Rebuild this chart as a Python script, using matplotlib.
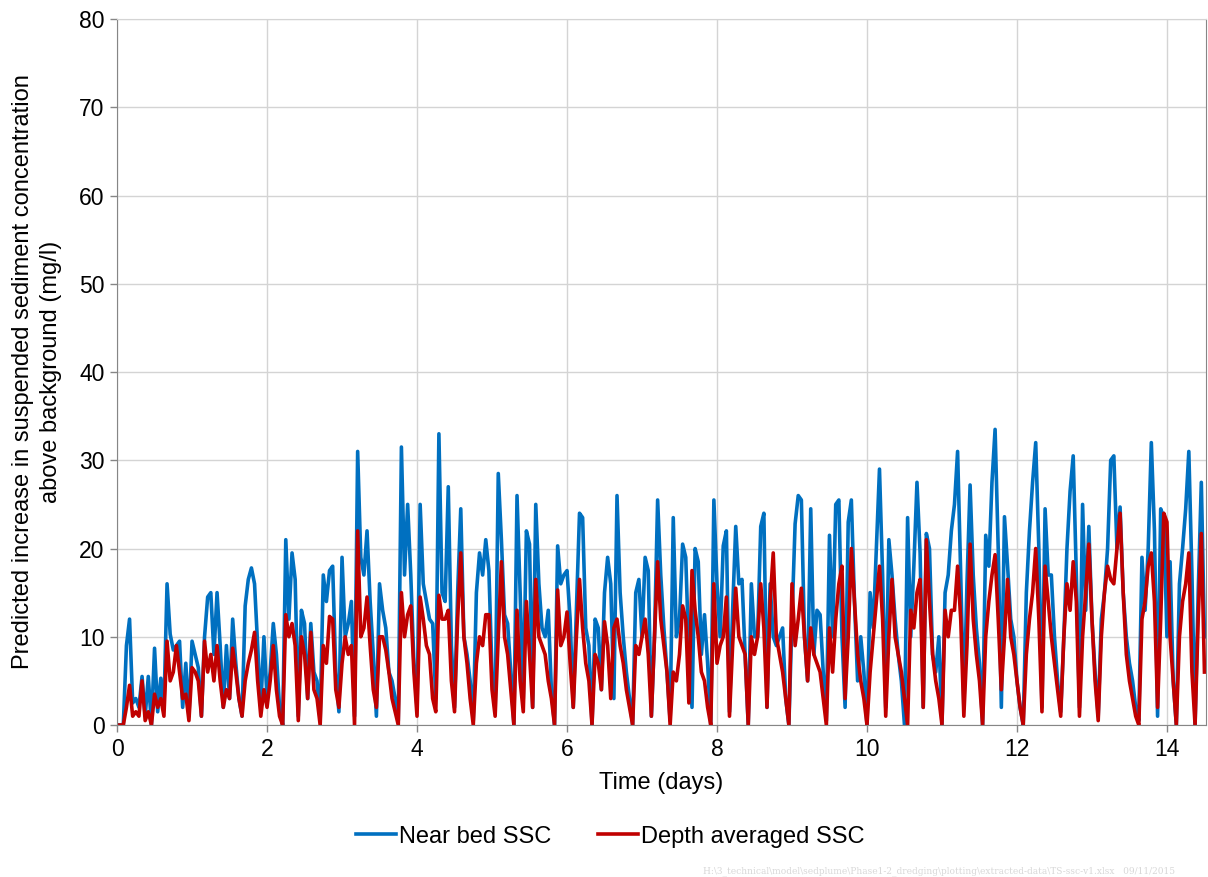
import numpy as np
import matplotlib
matplotlib.use("Agg")
import matplotlib.pyplot as plt

plt.rcParams['font.family'] = ['Liberation Sans', 'DejaVu Sans']

# hourly values (mg/l), starting at t = 0
near_bed = [
    0, 0, 0, 9, 12, 2.5, 3, 2, 5.5, 1, 5.5, 0,                    # 0
    8.7, 1.5, 5.3, 2, 16, 10.3, 8.5, 9, 9.5, 2, 7, 1,              # 12
    9.5, 8, 6.5, 1, 10, 14.5, 15, 8, 15, 9, 2, 9,                  # 24
    3, 12, 7, 3, 1, 13.5, 16.5, 17.8, 16, 9, 2, 10,                # 36
    3, 6, 11.5, 8, 2, 0, 21, 12, 19.5, 16.5, 1, 13,                # 48
    11.5, 3, 11.5, 6, 5, 0.5, 17, 14, 17.5, 18, 6, 1.5,            # 60
    19, 10, 11.5, 14, 1, 31, 19, 17, 22, 14, 8, 1,                 # 72
    16, 13, 11, 6, 5, 3, 0.5, 31.5, 17, 25, 17, 7,                 # 84
    2, 25, 16, 14, 12, 11.5, 3, 33, 15, 14, 27, 9,                 # 96
    2, 15, 24.5, 10, 8, 5, 0.5, 15, 19.5, 17, 21, 17.5,            # 108
    6, 1.5, 28.5, 21, 12.5, 11.5, 6, 0, 26, 15, 3, 22,             # 120
    20.5, 2, 25, 16, 11, 10, 13, 4, 0, 20.3, 16, 17,               # 132
    17.5, 12, 2, 13, 24, 23.5, 11, 9, 0, 12, 11, 4,                # 144
    15, 19, 16, 3, 26, 15, 10, 6, 3, 0, 15, 16.5,                  # 156
    10, 19, 17.5, 1, 10, 25.5, 17, 11, 6, 0.5, 23.5, 10,           # 168
    12, 20.5, 19, 8, 2, 20, 18.5, 8, 12.5, 7, 0, 25.5,             # 180
    16, 10, 20.3, 22, 1.5, 13, 22.5, 16, 16.5, 8, 0, 16,           # 192
    10, 10, 22.5, 24, 2, 16, 10, 9, 10, 11, 3, 0,                  # 204
    12, 22.8, 26, 25.5, 10, 5, 24.5, 8, 13, 12.5, 6, 0.5,          # 216
    21.5, 10, 25, 25.5, 10, 2, 23, 25.5, 14, 5, 10, 6,             # 228
    0, 15, 11, 20, 29, 17, 2, 21, 17, 12, 8, 5,                    # 240
    0, 23.5, 10, 18, 27.5, 19.5, 2, 21.7, 20, 8, 6, 10,            # 252
    0, 15, 17, 22, 25, 31, 17, 2, 16, 27.2, 17, 11,                # 264
    7, 0, 21.5, 18, 27.5, 33.5, 20, 2, 23.6, 18, 12, 10,           # 276
    5, 2, 0, 15, 22, 27.5, 32, 20, 2, 24.5, 17, 17,                # 288
    10, 5, 1.5, 10, 20, 26.5, 30.5, 17, 2, 25, 13, 22.5,           # 300
    12, 6, 1, 12, 15, 20, 30, 30.5, 20, 24.7, 15, 10,              # 312
    7, 5, 2, 0.5, 19, 13, 20, 32, 22, 1, 24.5, 23.5,               # 324
    10, 18.5, 5, 0, 16, 20, 24.5, 31, 17, 0, 15, 27.5,             # 336
    10,                                                            # 348
]

depth_avg = [
    0, 0, 0, 2, 4.5, 1, 1.5, 1, 5, 0.5, 1.5, 0,                    # 0
    3.5, 2, 3, 1, 9.5, 5, 6, 9, 6, 3, 3.5, 0.5,                    # 12
    6.5, 6, 5, 1, 9.5, 6, 8, 5, 9, 5, 2, 4,                        # 24
    3, 8.7, 6, 3, 1, 5, 7, 8.5, 10.5, 5, 1, 4,                     # 36
    2, 5, 9, 4, 1, 0, 12.5, 10, 11.5, 9, 0.5, 10,                  # 48
    8, 3, 10.5, 4, 3, 0, 9, 7, 12.3, 12, 4, 2,                     # 60
    7, 10, 8, 9, 0, 22, 10, 11, 14.5, 9, 4, 2,                     # 72
    10, 10, 8.5, 6, 3, 1.5, 0, 15, 10, 12.5, 13.5, 6,              # 84
    1, 14.5, 12, 9, 8, 3, 1.5, 14.7, 12, 12, 13, 5,                # 96
    1.5, 12, 19.5, 10, 7, 3, 0, 7, 10, 9, 12.5, 12.5,              # 108
    4, 1, 10, 18.5, 10, 8, 4, 0, 13, 5, 1.5, 14,                   # 120
    8, 2, 16.5, 10, 9, 8, 5, 3, 0, 15.3, 9, 10,                    # 132
    12.8, 7, 2, 10, 16.5, 11, 7, 5, 0, 8, 7, 4,                    # 144
    11.7, 9, 3, 11, 12, 9, 7, 4, 2, 0, 9, 8,                       # 156
    10, 12, 8, 1, 10, 18.5, 12, 9, 6, 0, 6, 5,                     # 168
    8, 13.5, 12, 2.5, 17.5, 13, 10, 6, 5, 2, 0, 16,                # 180
    7, 9, 10, 14.5, 1, 9, 15.5, 10, 9, 8, 0, 10,                   # 192
    8, 10, 16, 11, 2, 14, 19.5, 10, 8, 6, 3, 0,                    # 204
    16, 9, 12, 15.5, 10, 5, 11, 8, 7, 6, 3, 0,                     # 216
    11, 6, 12, 16, 18, 3, 10, 20, 14, 8, 5, 3,                     # 228
    0, 6, 10, 14, 18, 12, 1, 10, 16.5, 10, 8, 6,                   # 240
    3, 0, 13, 11, 15, 16.5, 2, 21, 14, 8, 5, 3,                    # 252
    0, 13, 10, 13, 13, 18, 12, 1, 9, 20.5, 12, 8,                  # 264
    5, 0, 10, 14, 17, 19.3, 12, 4, 10, 16.5, 10, 8,                # 276
    5, 2, 0, 8, 12, 15, 20, 12, 1.5, 18, 14, 10,                   # 288
    7, 4, 1, 10, 16, 13, 18.5, 14, 1, 10, 15, 20.5,                # 300
    12, 5, 0.5, 10, 15, 18, 16.5, 16, 20, 24, 15, 8,               # 312
    5, 3, 1, 0, 12, 14, 18, 19.5, 14, 2, 12, 24,                   # 324
    23, 10, 5, 0, 10, 14, 16, 19.5, 6, 0, 12, 21.7,                # 336
    6,                                                             # 348
]

series_labels = ["Near bed SSC", "Depth averaged SSC"]
series_colors = ["#0070C0", "#C00000"]

t_bed = np.arange(len(near_bed)) / 24.0
t_avg = np.arange(len(depth_avg)) / 24.0

fig = plt.figure(figsize=(12.08, 8.77), dpi=100)
ax = fig.add_axes([0.0969, 0.1733, 0.9014, 0.805])

ax.plot(t_bed, near_bed, color=series_colors[0], lw=2.6, label=series_labels[0])
ax.plot(t_avg, depth_avg, color=series_colors[1], lw=2.6, label=series_labels[1])

ax.set_xlim(0, 14.52)
ax.set_ylim(0, 80)
ax.set_xticks(range(0, 15, 2))
ax.set_yticks(range(0, 81, 10))
ax.grid(True, color="#d4d4d4", lw=1)
ax.set_axisbelow(True)
ax.tick_params(labelsize=16.5, color="#868686", length=5, width=1, pad=4)

for side in ["left", "bottom", "right"]:
    ax.spines[side].set_color("#868686")
ax.spines["top"].set_color("#d4d4d4")

ax.set_xlabel("Time (days)", fontsize=17, labelpad=8)
ax.set_ylabel("Predicted increase in suspended sediment concentration\nabove background (mg/l)",
              fontsize=17, labelpad=12, linespacing=1.35)

handles, labels = ax.get_legend_handles_labels()
fig.legend(handles, labels, loc="center", bbox_to_anchor=(0.505, 0.046), ncol=2,
           frameon=False, fontsize=17, handlelength=1.7, handletextpad=0.1,
           columnspacing=2.0)

fig.text(0.582, 0.004,
         "H:\\3_technical\\model\\sedplume\\Phase1-2_dredging\\plotting\\extracted-data\\TS-ssc-v1.xlsx   09/11/2015",
         fontsize=6.5, color="#d8d8d8", family="serif")

fig.savefig("out.png", dpi=100)
